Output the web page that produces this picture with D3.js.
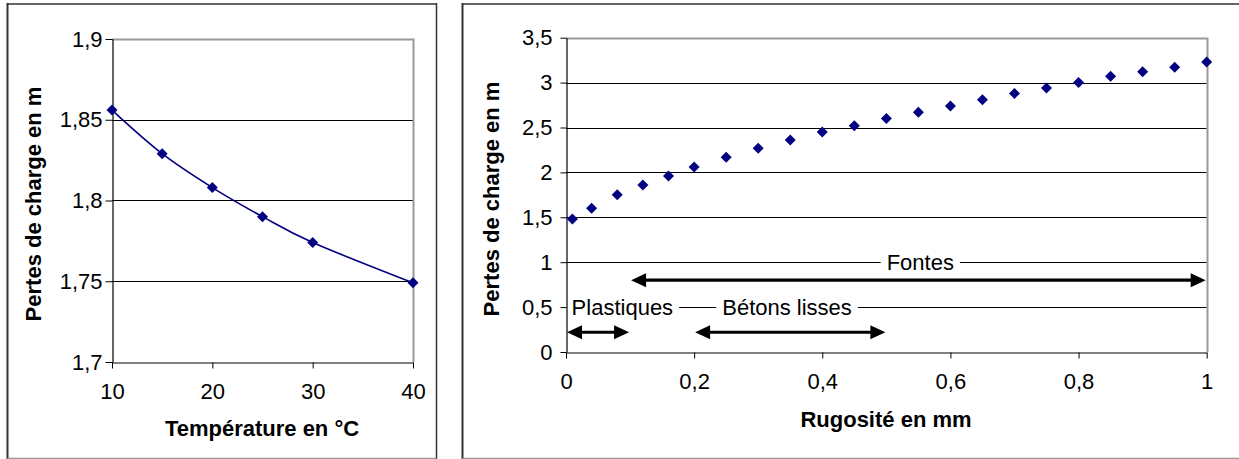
<!DOCTYPE html>
<html><head><meta charset="utf-8">
<script src="https://cdn.jsdelivr.net/npm/d3@7"></script>
<style>
html,body{margin:0;padding:0;background:#fff;}
svg{display:block;font-family:"Liberation Sans",Arial,sans-serif;}
</style></head>
<body>
<svg id="c" width="1239" height="459"></svg>
<script>
// ---- Data ----
const tempC = [10, 15, 20, 25, 30, 40];
const tempLoss = [1.856, 1.829, 1.808, 1.790, 1.774, 1.749];
const tempXTicks = [10, 20, 30, 40];
const tempYTicks = [1.7, 1.75, 1.8, 1.85, 1.9];

const rough = [0.01, 0.04, 0.08, 0.12, 0.16, 0.2, 0.25, 0.3, 0.35, 0.4, 0.45, 0.5, 0.55, 0.6, 0.65, 0.7, 0.75, 0.8, 0.85, 0.9, 0.95, 1.0];
const roughLoss = [1.48, 1.60, 1.75, 1.86, 1.96, 2.06, 2.17, 2.27, 2.36, 2.45, 2.52, 2.60, 2.67, 2.74, 2.81, 2.88, 2.94, 3.00, 3.07, 3.12, 3.17, 3.23];
const roughXTicks = [0, 0.2, 0.4, 0.6, 0.8, 1];
const roughYTicks = [0, 0.5, 1, 1.5, 2, 2.5, 3, 3.5];

// annotations (material ranges in mm)
const matNames = ["Plastiques", "Bétons lisses", "Fontes"];
const matFrom = [0, 0.2, 0.1];
const matTo = [0.1, 0.5, 1.0];
const matArrowY = [0.22, 0.22, 0.8];
const matLabelX = [0.088, 0.345, 0.553];
const matLabelY = [0.5, 0.5, 1.0];

const svg = d3.select("#c");
const fmt = v => String(v).replace(".", ",");
const FS = 22;
const NAVY = "#000080";

// ---- frames ----
function line(x1,y1,x2,y2,col,w){
  svg.append("line").attr("x1",x1).attr("y1",y1).attr("x2",x2).attr("y2",y2)
    .attr("stroke",col).attr("stroke-width",w);
}
line(7.5,4,436.5,4,"#333",1.5);
line(7.5,3,7.5,459,"#333",2);
line(436.5,3,436.5,459,"#333",1.5);
line(7.5,458.5,436.5,458.5,"#999",1.5);
line(462.5,4,1239,4,"#333",1.5);
line(462.5,3,462.5,459,"#333",2);
line(462.5,458.5,1239,458.5,"#999",1.5);

function diamond(g, pts, s){
  g.selectAll("path.m").data(pts).join("path").attr("class","m")
    .attr("d", d => `M${d[0]},${d[1]-s}L${d[0]+s},${d[1]}L${d[0]},${d[1]+s}L${d[0]-s},${d[1]}Z`)
    .attr("fill", NAVY);
}

function chart(cfg){
  const x = d3.scaleLinear().domain(cfg.xd).range(cfg.xr);
  const y = d3.scaleLinear().domain(cfg.yd).range(cfg.yr);
  const g = svg.append("g");
  // gridlines
  g.selectAll("line.grid").data(cfg.yTicks.slice(1, -1)).join("line")
    .attr("x1", cfg.xr[0]).attr("x2", cfg.xr[1])
    .attr("y1", d => Math.round(y(d)) + 0.5).attr("y2", d => Math.round(y(d)) + 0.5)
    .attr("stroke", "#000").attr("stroke-width", 1);
  // plot border top/right gray
  const top = Math.round(cfg.yr[1]) + 0.5, right = Math.round(cfg.xr[1]) + 0.5;
  g.append("path").attr("d", `M${cfg.xr[0]},${top}H${right}V${cfg.yr[0]}`)
    .attr("fill","none").attr("stroke","#999").attr("stroke-width",2);
  cfg.extra && cfg.extra(g, x, y);
  // axes
  const ya = g.append("g").attr("transform", `translate(${Math.round(cfg.xr[0])+0.5},0)`)
    .call(d3.axisLeft(y).tickValues(cfg.yTicks).tickFormat(fmt).tickSize(cfg.yTick).tickPadding(cfg.yPad).tickSizeOuter(0));
  const xa = g.append("g").attr("transform", `translate(0,${Math.round(cfg.yr[0])+0.5})`)
    .call(d3.axisBottom(x).tickValues(cfg.xTicks).tickFormat(fmt).tickSize(6).tickPadding(15).tickSizeOuter(0));
  [ya, xa].forEach(a => {
    a.select(".domain").attr("stroke","#000").attr("stroke-width",1.2);
    a.selectAll(".tick line").attr("stroke","#000");
    a.selectAll("text").attr("fill","#000").style("font-size", FS + "px")
      .style("font-family", '"Liberation Sans",Arial,sans-serif');
  });
  // data
  if (cfg.lineOn) {
    g.append("path").datum(cfg.xs.map((v,i)=>[x(v), y(cfg.ys[i])]))
      .attr("d", d3.line().curve(d3.curveCardinal.tension(0)))
      .attr("fill","none").attr("stroke",NAVY).attr("stroke-width",1.6);
  }
  diamond(g, cfg.xs.map((v,i)=>[x(v), y(cfg.ys[i])]), 5.5);
  // titles
  g.append("text").attr("x", cfg.xt[0]).attr("y", cfg.xt[1]).attr("text-anchor","middle")
    .attr("dominant-baseline","central").style("font-weight","bold").style("font-size","22px").text(cfg.xTitle);
  g.append("text").attr("transform", `translate(${cfg.yt[0]},${cfg.yt[1]}) rotate(-90)`).attr("text-anchor","middle")
    .attr("dominant-baseline","central").style("font-weight","bold").style("font-size","22px").text(cfg.yTitle);
}

chart({
  xd:[10,40], xr:[112,413], yd:[1.7,1.9], yr:[362,39],
  xTicks: tempXTicks, yTicks: tempYTicks, yTick:7, yPad:3,
  xs: tempC, ys: tempLoss, lineOn: true,
  xTitle: "Température en °C", xt:[262,428],
  yTitle: "Pertes de charge en m", yt:[33,204]
});

chart({
  xd:[0,1], xr:[566,1206.7], yd:[0,3.5], yr:[352,37.7],
  xTicks: roughXTicks, yTicks: roughYTicks, yTick:6, yPad:8,
  xs: rough, ys: roughLoss, lineOn: false,
  xTitle: "Rugosité en mm", xt:[886,419],
  yTitle: "Pertes de charge en m", yt:[491,199],
  extra: (g, x, y) => {
    // labels with white background
    matNames.forEach((n, i) => {
      const t = g.append("text").attr("x", x(matLabelX[i])).attr("y", y(matLabelY[i]))
        .attr("text-anchor","middle").attr("dominant-baseline","central")
        .style("font-size", "22px").text(n);
      const bb = t.node().getBBox();
      g.insert("rect", "text").attr("x", bb.x - 6).attr("y", bb.y).attr("width", bb.width + 12)
        .attr("height", bb.height).attr("fill", "#fff");
    });
    // arrows
    const L = 15, H = 7;
    matNames.forEach((n, i) => {
      const x1 = x(matFrom[i]) + 1, x2 = x(matTo[i]) - 1, yy = y(matArrowY[i]);
      g.append("line").attr("x1", x1 + L - 2).attr("x2", x2 - L + 2).attr("y1", yy).attr("y2", yy)
        .attr("stroke", "#000").attr("stroke-width", 3.2);
      g.append("path").attr("d", `M${x1},${yy}L${x1+L},${yy-H}L${x1+L},${yy+H}Z`).attr("fill","#000");
      g.append("path").attr("d", `M${x2},${yy}L${x2-L},${yy-H}L${x2-L},${yy+H}Z`).attr("fill","#000");
    });
  }
});
</script>
</body></html>
